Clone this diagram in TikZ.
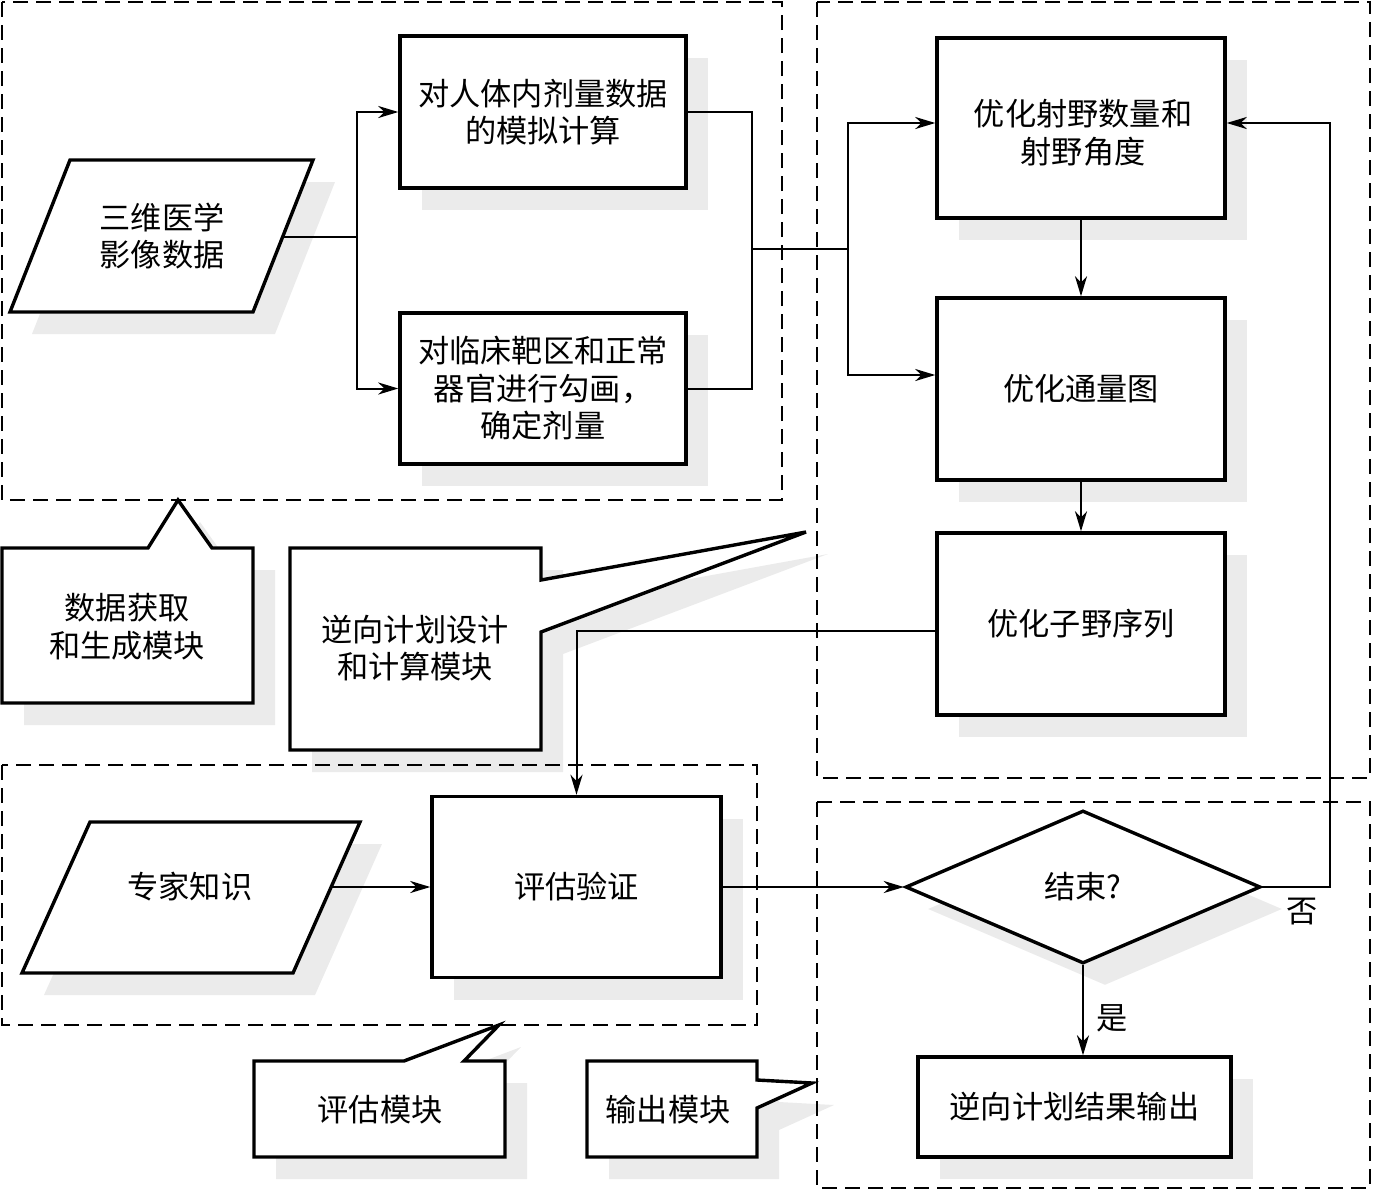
\documentclass[tikz,border=0pt]{standalone}
\usepackage{fontspec}
\setmainfont{Noto Sans CJK SC}
\usetikzlibrary{arrows.meta,shapes.geometric,shadows,calc}
\begin{document}
\begin{tikzpicture}[x=0.5pt,y=-0.5pt,
  font=\fontsize{15.6pt}{18.8pt}\selectfont,
  shade/.style={fill=black!8, draw=none},
  sh/.style={drop shadow={shadow xshift=11pt, shadow yshift=-11pt, fill=black!8, opacity=1}},
  box/.style={draw, line width=1.7pt, fill=white, align=center, inner sep=0pt, sh},
  shapeline/.style={draw, line width=1.7pt, fill=white},
  region/.style={draw, line width=1pt, dash pattern=on 7.5pt off 4pt},
  conn/.style={line width=1pt},
  arr/.style={line width=1pt, -{Stealth[length=10pt, width=6pt, inset=3pt]}},
  txt/.style={align=center, inner sep=0pt}]
\useasboundingbox (0,0) rectangle (1373,1190);

% callouts (shadows first)
\fill[shade, shift={(22,22)}] (2,548) -- (148,548) -- (178,500) -- (212,548) -- (253,548) -- (253,703) -- (2,703) -- cycle;
\fill[shade, shift={(22,22)}] (290,548) -- (541,548) -- (541,580) -- (806,532) -- (541,632) -- (541,750) -- (290,750) -- cycle;
\fill[shade, shift={(22,22)}] (254,1061) -- (404,1061) -- (499,1025) -- (464,1061) -- (505,1061) -- (505,1157) -- (254,1157) -- cycle;
\fill[shade, shift={(22,22)}] (587,1061) -- (757,1061) -- (757,1080) -- (812,1083) -- (757,1108) -- (757,1157) -- (587,1157) -- cycle;
\path[shapeline] (2,548) -- (148,548) -- (178,500) -- (212,548) -- (253,548) -- (253,703) -- (2,703) -- cycle;
\path[shapeline] (290,548) -- (541,548) -- (541,580) -- (806,532) -- (541,632) -- (541,750) -- (290,750) -- cycle;
\path[shapeline] (254,1061) -- (404,1061) -- (499,1025) -- (464,1061) -- (505,1061) -- (505,1157) -- (254,1157) -- cycle;
\path[shapeline] (587,1061) -- (757,1061) -- (757,1080) -- (812,1083) -- (757,1108) -- (757,1157) -- (587,1157) -- cycle;
\node[txt] (t1) at (127,627) {数据获取\\和生成模块};
\node[txt] (t2) at (415,648) {逆向计划设计\\和计算模块};
\node[txt] (t3) at (380,1110) {评估模块};
\node[txt] (t4) at (668,1110) {输出模块};

% dashed module regions
\draw[region] (2,2) rectangle (782,500);
\draw[region] (817,2) rectangle (1370,778);
\draw[region] (2,765) rectangle (757,1025);
\draw[region] (817,802) rectangle (1370,1188);

% parallelograms
\fill[shade, shift={(22,22)}] (70,160) -- (313,160) -- (253,312) -- (10,312) -- cycle;
\path[shapeline] (70,160) -- (313,160) -- (253,312) -- (10,312) -- cycle;
\node[txt] (P1) at (162,236) {三维医学\\影像数据};
\fill[shade, shift={(22,22)}] (90,822) -- (360,822) -- (293,973) -- (22,973) -- cycle;
\path[shapeline] (90,822) -- (360,822) -- (293,973) -- (22,973) -- cycle;
\node[txt] (P2) at (190,887) {专家知识};

% boxes
\node[box, minimum width=143pt, minimum height=76pt] (A) at (543,112) {对人体内剂量数据\\的模拟计算};
\node[box, minimum width=143pt, minimum height=75.5pt] (B) at (543,388.5) {对临床靶区和正常\\器官进行勾画，\\确定剂量};
\node[box, minimum width=144pt, minimum height=90pt] (C) at (1081,128) {};
\node[txt] (Ct) at (1083,133) {优化射野数量和\\射野角度};
\node[box, minimum width=144pt, minimum height=91pt] (D) at (1081,389) {优化通量图};
\node[box, minimum width=144pt, minimum height=91pt] (E) at (1081,624) {优化子野序列};
\node[box, minimum width=144.5pt, minimum height=90.5pt] (F) at (576.5,887) {评估验证};
\node[diamond, draw, line width=1.7pt, fill=white, inner sep=0pt, sh,
      minimum width=177.5pt, minimum height=76.5pt] (K) at (1083,887) {结束?};
\node[box, minimum width=156.5pt, minimum height=50pt] (G) at (1074.5,1107) {逆向计划结果输出};
\node[txt] (no) at (1302,912) {否};
\node[txt] (yes) at (1112,1018) {是};

% connectors
\coordinate (P1e) at (283,237);
\coordinate (J1) at (357,237);
\coordinate (J2) at (752,249);
\coordinate (J3) at (848,249);
\coordinate (P2e) at (331,887);
\coordinate (Rc) at (1330,123);
\draw[conn] (P1e) -- (J1);
\draw[arr] (J1) |- (A.west);
\draw[arr] (J1) |- (B.west);
\draw[conn] (A.east) -| (J2) |- (B.east);
\draw[conn] (J2) -- (J3);
\draw[arr] (J3) |- ([yshift=2.5pt]C.west);
\draw[arr] (J3) |- ([yshift=7pt]D.west);
\draw[arr] (C.south) -- (D.north);
\draw[arr] (D.south) -- (E.north);
\draw[arr] ([yshift=-3.5pt]E.west) -| (F.north);
\draw[arr] (P2e) -- (F.west);
\draw[arr] (F.east) -- (K.west);
\draw[arr] (K.east) -| (Rc) -- ([yshift=2.5pt]C.east);
\draw[arr] (K.south) -- (K.south |- G.north);
\end{tikzpicture}
\end{document}
